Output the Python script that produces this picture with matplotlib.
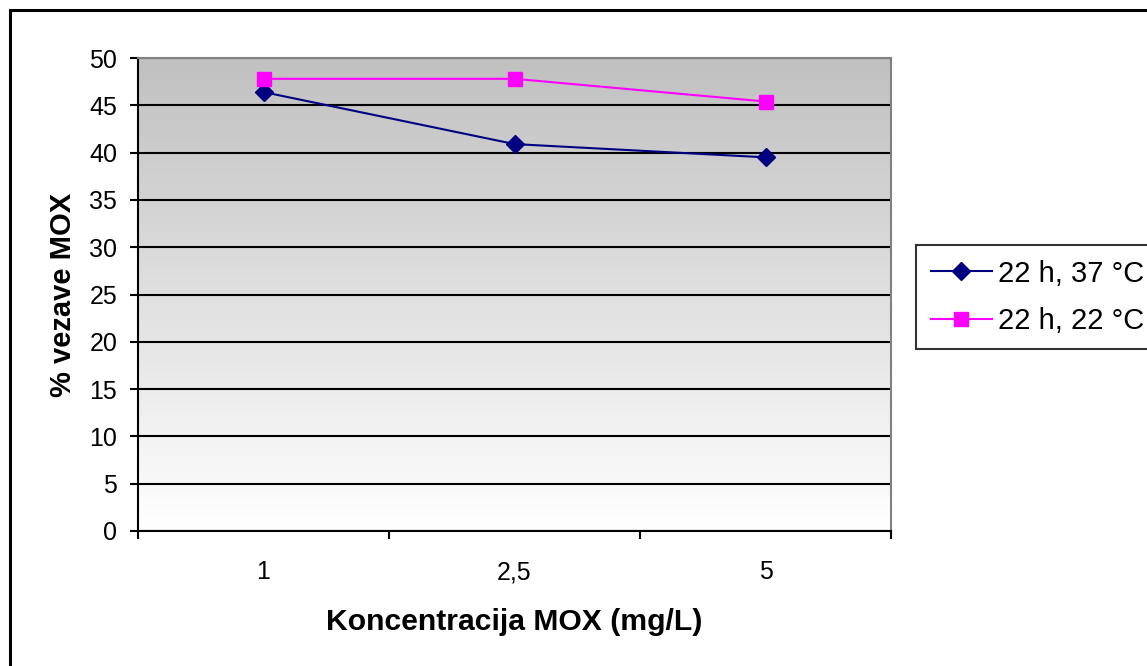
import numpy as np
import matplotlib
matplotlib.use('Agg')
import matplotlib.pyplot as plt
from matplotlib.patches import Rectangle

plt.rcParams['font.family'] = ['Liberation Sans', 'DejaVu Sans']

# data
categories = ['1', '2,5', '5']
vezava_37 = [46.4, 40.9, 39.5]
vezava_22 = [47.8, 47.8, 45.4]
labels = ['22 h, 37 °C', '22 h, 22 °C']
yticks = [0, 5, 10, 15, 20, 25, 30, 35, 40, 45, 50]

fig = plt.figure(figsize=(11.47, 6.66), dpi=100)
ax = fig.add_axes([138/1147, 135/666, 753/1147, 473/666])

x = np.arange(1, len(categories) + 1)

# gray -> white background gradient
g = np.linspace(1.0, 0.753, 256).reshape(-1, 1)
grad = np.dstack([g, g, g])
ax.imshow(grad, extent=[0.5, 3.5, 0, 50], aspect='auto', origin='lower', zorder=0)

ax.plot(x, vezava_37, '-D', color='#000080', lw=1.5, ms=9.5, label=labels[0], zorder=3)
ax.plot(x, vezava_22, '-s', color='#ff00ff', lw=1.5, ms=9.8, label=labels[1], zorder=3)

ax.set_xlim(0.5, 3.5)
ax.set_ylim(0, 50)
ax.set_yticks(yticks)
ax.set_xticks([0.5, 1.5, 2.5, 3.5])
ax.set_xticklabels([])
ax.set_xticks(x, minor=True)
ax.set_xticklabels(categories, minor=True)
ax.tick_params(axis='x', which='minor', length=0, pad=21, labelsize=18)
ax.tick_params(axis='x', which='major', length=6, width=1.5, direction='out')
ax.tick_params(axis='y', length=6, width=1.5, direction='out', pad=9, labelsize=18)

ax.yaxis.grid(True, color='black', lw=1.5)
ax.set_axisbelow('line')

for s in ['left', 'bottom']:
    ax.spines[s].set_color('black')
    ax.spines[s].set_linewidth(1.5)
for s in ['top', 'right']:
    ax.spines[s].set_color('#808080')
    ax.spines[s].set_linewidth(1.5)

ax.set_xlabel('Koncentracija MOX (mg/L)', fontsize=21.7, fontweight='bold', labelpad=17)
ax.set_ylabel('% vezave MOX', fontsize=21, fontweight='bold', labelpad=9)

leg = ax.legend(loc='upper left', bbox_to_anchor=(916/1147, 1 - 245/666),
                bbox_transform=fig.transFigure, fontsize=21, frameon=True,
                fancybox=False, borderaxespad=0, borderpad=0.5,
                handlelength=2.1, handletextpad=0.22, labelspacing=0.66)
leg.get_frame().set_edgecolor('black')
leg.get_frame().set_linewidth(1.5)

# outer chart frame
fig.patches.append(Rectangle((9.5/1147, -0.1), 1.2, 1.1 - 10.5/666,
                             transform=fig.transFigure, fill=False,
                             edgecolor='black', lw=2.2))

fig.savefig('out.png', dpi=100)
